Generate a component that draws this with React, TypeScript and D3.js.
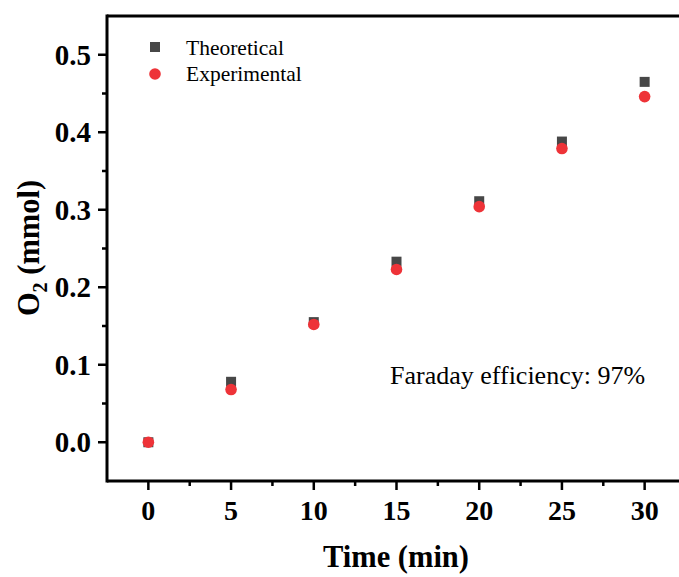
import React from "react";
import * as d3 from "d3";

const times = [0, 5, 10, 15, 20, 25, 30];
const theoretical = [0, 0.078, 0.155, 0.233, 0.311, 0.388, 0.465];
const experimental = [0, 0.068, 0.152, 0.223, 0.304, 0.379, 0.446];
const xTicks = [0, 5, 10, 15, 20, 25, 30];
const yTicks = [0, 0.1, 0.2, 0.3, 0.4, 0.5];
const xMinor = [-2.5, 2.5, 7.5, 12.5, 17.5, 22.5, 27.5, 32.5];
const yMinor = [-0.05, 0.05, 0.15, 0.25, 0.35, 0.45, 0.55];
const legendLabels = ["Theoretical", "Experimental"];
const annotation = "Faraday efficiency: 97%";

const W = 679, H = 577;
const left = 107, right = 686, top = 16, bottom = 481;
const font = "'Liberation Serif', 'Times New Roman', serif";
const sqColor = "#474747";
const ciColor = "#ee3338";

export default function App() {
  const x = d3.scaleLinear().domain([-2.5, 32.5]).range([left, right]);
  const y = d3.scaleLinear().domain([-0.05, 0.55]).range([bottom, top]);
  const sq = 10;
  return (
    <svg width={W} height={H} style={{ position: "absolute", left: 0, top: 0, background: "#fff" }}>
      {/* frame */}
      <line x1={left} x2={W} y1={top} y2={top} stroke="#000" strokeWidth={3} />
      <line x1={left} x2={W} y1={bottom} y2={bottom} stroke="#000" strokeWidth={3} />
      <line x1={left} x2={left} y1={top - 1.5} y2={bottom + 1.5} stroke="#000" strokeWidth={3} />
      {/* x ticks */}
      {xTicks.map((t) => (
        <g key={"xt" + t}>
          <line x1={x(t)} x2={x(t)} y1={bottom} y2={bottom + 9} stroke="#000" strokeWidth={2.5} />
          <text x={x(t)} y={520} textAnchor="middle" fontFamily={font} fontWeight="bold" fontSize={28}>{t}</text>
        </g>
      ))}
      {xMinor.filter((t) => x(t) < W && t > -2.5).map((t) => (
        <line key={"xm" + t} x1={x(t)} x2={x(t)} y1={bottom} y2={bottom + 5} stroke="#000" strokeWidth={2.5} />
      ))}
      {/* y ticks */}
      {yTicks.map((t) => (
        <g key={"yt" + t}>
          <line x1={left - 9} x2={left} y1={y(t)} y2={y(t)} stroke="#000" strokeWidth={2.5} />
          <text x={91} y={y(t) + 10} textAnchor="end" fontFamily={font} fontWeight="bold" fontSize={29}>{t.toFixed(1)}</text>
        </g>
      ))}
      {yMinor.filter((t) => t > -0.05 && t < 0.55).map((t) => (
        <line key={"ym" + t} x1={left - 5} x2={left} y1={y(t)} y2={y(t)} stroke="#000" strokeWidth={2.5} />
      ))}
      {/* axis labels */}
      <text x={396} y={567} textAnchor="middle" fontFamily={font} fontWeight="bold" fontSize={30.5}>Time (min)</text>
      <text transform={`translate(39,248) rotate(-90)`} textAnchor="middle" fontFamily={font} fontWeight="bold" fontSize={30.5}>
        O<tspan fontSize={20} dy={8}>2</tspan><tspan dy={-8}> (mmol)</tspan>
      </text>
      {/* data */}
      {times.map((t, i) => (
        <rect key={"s" + i} x={x(t) - sq / 2} y={y(theoretical[i]) - sq / 2} width={sq} height={sq} fill={sqColor} />
      ))}
      {times.map((t, i) => (
        <circle key={"c" + i} cx={x(t)} cy={y(experimental[i])} r={5.8} fill={ciColor} />
      ))}
      {/* legend */}
      <rect x={155 - sq / 2} y={47 - sq / 2} width={sq} height={sq} fill={sqColor} />
      <circle cx={155} cy={74} r={5.8} fill={ciColor} />
      <text x={186} y={55} fontFamily={font} fontSize={21.5}>{legendLabels[0]}</text>
      <text x={186} y={81} fontFamily={font} fontSize={21.5}>{legendLabels[1]}</text>
      {/* annotation */}
      <text x={390} y={384} fontFamily={font} fontSize={26}>{annotation}</text>
    </svg>
  );
}
